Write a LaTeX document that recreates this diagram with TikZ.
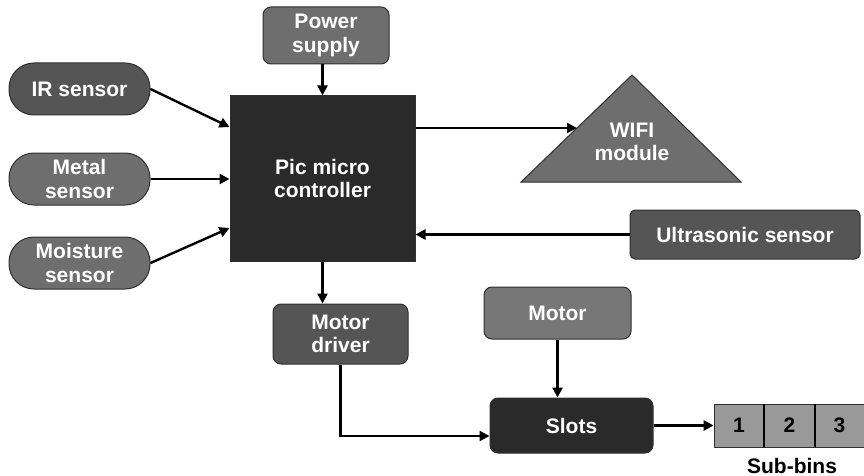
\documentclass[tikz,border=0pt]{standalone}
\usepackage{fontspec}
\setmainfont{Liberation Sans}
\usetikzlibrary{arrows.meta,calc}
\definecolor{cA}{HTML}{555555}
\definecolor{cB}{HTML}{6E6E6E}
\definecolor{cC}{HTML}{2A2A2A}
\definecolor{cD}{HTML}{777777}
\definecolor{cE}{HTML}{999999}
\definecolor{cBord}{HTML}{303030}
\tikzset{
  lbl/.style={font=\fontsize{21}{23.5}\selectfont\bfseries, text=white, align=center, inner sep=0pt},
  blk/.style={lbl, draw=cBord, line width=1pt},
  pill/.style={blk, rounded corners=25pt, minimum width=141pt, minimum height=52pt},
  rbox/.style={blk, rounded corners=8pt},
  arr/.style={line width=2.4pt, -{Triangle[length=10pt,width=10pt]}},
  bin/.style={draw=cBord, line width=0.8pt, fill=cE, minimum width=50pt, minimum height=43pt, inner sep=0pt, font=\fontsize{21}{23.5}\selectfont\bfseries, text=black}
}
\begin{document}
\begin{tikzpicture}[x=1pt,y=-1pt]
\useasboundingbox (0,0) rectangle (864,476);
% nodes
\node[rbox, fill=cB, minimum width=126pt, minimum height=57pt] (power) at (326,35.5) {Power\\supply};
\node[pill, fill=cA] (ir) at (79.5,89) {IR sensor};
\node[pill, fill=cB] (metal) at (79.5,179) {Metal\\sensor};
\node[pill, fill=cB] (moist) at (79.5,263) {Moisture\\sensor};
\node[blk, fill=cC, minimum width=185pt, minimum height=165pt] (pic) at (322.5,178.5) {Pic micro\\controller};
\node[blk, fill=cA, rounded corners=5pt, minimum width=230pt, minimum height=49pt] (us) at (745,234.5) {Ultrasonic sensor};
\node[rbox, fill=cA, minimum width=135pt, minimum height=60pt] (driver) at (340.5,334) {Motor\\driver};
\node[rbox, fill=cD, minimum width=147pt, minimum height=52pt] (motor) at (557.5,313) {Motor};
\node[rbox, fill=cC, minimum width=163pt, minimum height=55pt] (slots) at (571.5,425.5) {Slots};
% WIFI triangle
\draw[draw=cBord, line width=1pt, fill=cB] (521,182) -- (632,75) -- (741,182) -- cycle;
\node[lbl] (wifi) at (632,142) {WIFI\\module};
\coordinate (wifiin) at (577,128);
% bins
\node[bin] (b1) at (739,425.5) {1};
\node[bin] (b2) at (789.5,425.5) {2};
\node[bin] (b3) at (839.5,425.5) {3};
\draw[line width=2pt] (b1.north east) -- (b1.south east);
\draw[line width=2pt] (b2.north east) -- (b2.south east);
\node[lbl, text=black, anchor=base] (subbins) at (792,473) {Sub-bins};
% connectors
\draw[arr] (power.south -| pic.north) -- (pic.north);
\draw[arr] (ir.east) -- (pic.west |- 0,127);
\draw[arr] (metal.east) -- (pic.west |- metal.east);
\draw[arr] (moist.east) -- (pic.west |- 0,228);
\draw[arr] (pic.east |- wifiin) -- (wifiin);
\draw[arr] (us.west) -- (pic.east |- us.west);
\draw[arr] (pic.south) -- (pic.south |- driver.north);
\draw[arr] (driver.south) |- ($(slots.west)+(0,10.5)$);
\draw[arr] (motor.south) -- (motor.south |- slots.north);
\draw[arr] (slots.east) -- (b1.west);
\end{tikzpicture}
\end{document}
